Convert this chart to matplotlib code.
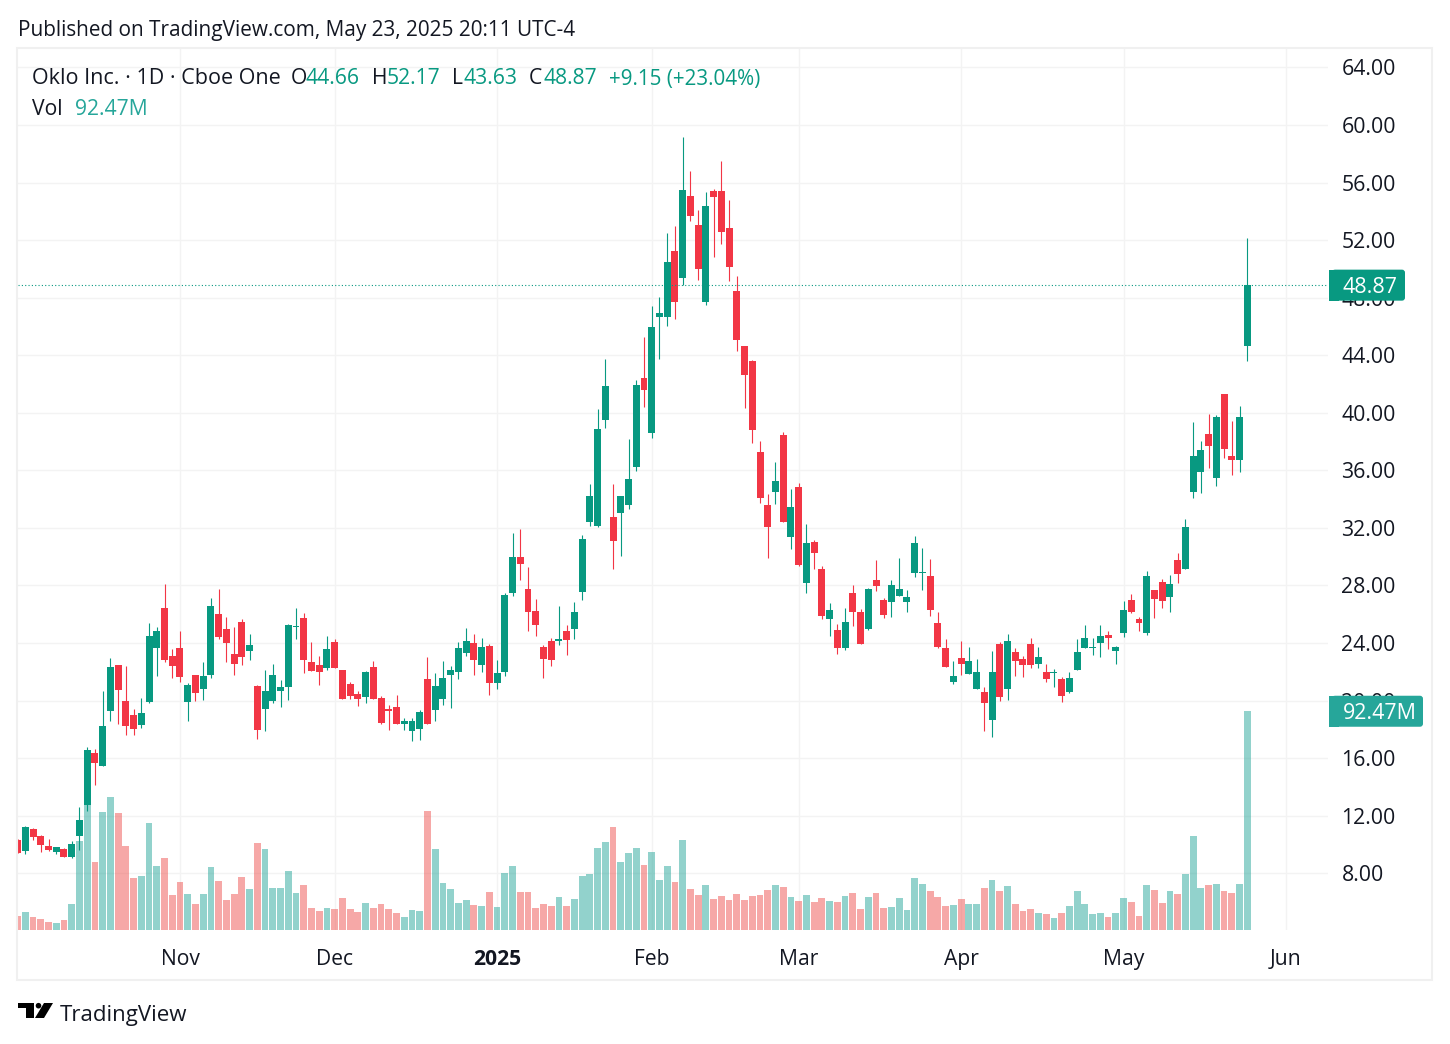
import matplotlib
matplotlib.use('Agg')
import matplotlib.pyplot as plt
from matplotlib.patches import Circle, FancyBboxPatch, Polygon, Rectangle
import numpy as np

W, H = 1450, 1044
FONT = 'Open Sans'

opens = [
    10.29, 9.52, 11.11, 10.56, 9.93, 9.45, 9.66, 9.10, 10.56, 12.77,
    16.38, 15.48, 19.29, 22.48, 19.98, 19.01, 18.32, 19.91, 23.65, 26.43,
    23.10, 23.65, 19.91, 21.78, 20.81, 21.78, 26.01, 24.97, 23.24, 25.46,
    23.45, 21.02, 19.43, 19.98, 20.67, 20.95, 25.11, 25.73, 22.66, 22.46,
    22.25, 24.05, 22.11, 21.14, 20.45, 20.24, 22.32, 20.17, 19.41, 19.55,
    18.37, 17.88, 18.02, 21.49, 19.34, 20.10, 21.76, 21.97, 23.29, 23.98,
    22.46, 23.77, 21.21, 21.97, 27.45, 30.01, 27.79, 26.20, 23.70, 24.12,
    24.12, 24.81, 24.95, 27.58, 32.40, 32.12, 39.53, 32.74, 33.02, 33.57,
    36.21, 42.44, 38.63, 46.67, 46.67, 51.24, 49.37, 55.06, 53.05, 47.71,
    55.40, 55.40, 52.84, 48.47, 44.66, 43.62, 37.25, 33.57, 34.47, 38.49,
    31.36, 34.82, 28.19, 31.04, 29.16, 25.70, 24.94, 23.69, 27.50, 26.18,
    25.01, 28.40, 27.02, 26.88, 27.29, 26.88, 28.89, 28.89, 28.68, 25.42,
    23.69, 21.26, 22.93, 21.82, 20.78, 20.57, 18.63, 23.90, 20.78, 23.41,
    22.86, 23.91, 22.51, 21.96, 21.89, 21.47, 20.63, 22.10, 23.63, 23.63,
    23.98, 24.53, 23.42, 24.67, 26.97, 25.65, 24.67, 27.66, 28.22, 27.18,
    29.75, 29.13, 34.48, 35.88, 38.52, 35.46, 41.31, 36.99, 36.71, 44.66,
]
highs = [
    10.35, 11.32, 11.18, 10.63, 10.35, 9.86, 9.73, 10.21, 12.64, 16.79,
    16.66, 20.67, 22.96, 22.48, 22.41, 19.43, 20.19, 25.39, 25.11, 28.09,
    23.59, 24.83, 21.23, 21.78, 22.68, 27.12, 27.74, 25.80, 25.11, 25.66,
    24.62, 21.09, 22.13, 22.55, 21.44, 25.32, 26.43, 26.08, 24.10, 23.08,
    24.47, 24.26, 22.11, 21.28, 20.65, 22.04, 22.73, 20.31, 19.68, 20.38,
    18.78, 18.78, 19.34, 23.01, 21.90, 22.73, 22.39, 24.05, 25.02, 24.60,
    24.33, 23.91, 22.80, 27.51, 31.67, 31.95, 29.25, 27.03, 23.84, 24.33,
    26.54, 25.23, 26.82, 31.53, 35.03, 40.23, 43.76, 35.03, 34.20, 38.15,
    42.30, 45.28, 47.43, 48.06, 52.49, 52.98, 59.14, 56.79, 54.09, 55.33,
    55.54, 57.48, 54.78, 49.51, 44.66, 43.69, 38.01, 34.34, 36.55, 38.70,
    34.68, 35.10, 32.28, 31.17, 29.37, 26.81, 25.35, 26.46, 28.06, 26.39,
    27.85, 29.79, 27.15, 28.40, 29.93, 27.71, 31.45, 30.62, 29.86, 26.18,
    24.31, 22.72, 24.11, 23.76, 22.86, 20.92, 23.48, 24.04, 24.66, 23.69,
    23.07, 24.32, 23.70, 22.51, 22.17, 21.61, 21.96, 24.25, 25.23, 24.32,
    25.23, 24.81, 23.77, 26.90, 27.39, 25.78, 28.99, 27.66, 28.43, 28.71,
    30.24, 32.61, 39.36, 38.03, 39.91, 39.84, 41.31, 39.43, 40.47, 52.17,
]
lows = [
    9.39, 9.31, 10.28, 9.45, 9.52, 9.31, 9.10, 9.03, 9.59, 12.36,
    14.16, 15.48, 18.60, 18.39, 17.63, 17.63, 18.11, 19.84, 21.71, 22.68,
    21.58, 21.30, 18.60, 19.98, 20.05, 21.58, 24.28, 22.68, 21.78, 22.48,
    22.82, 17.35, 17.90, 19.84, 19.57, 20.05, 24.28, 21.92, 22.04, 21.07,
    22.11, 22.25, 20.10, 20.10, 19.61, 19.82, 20.10, 18.37, 17.95, 18.37,
    17.95, 17.19, 17.26, 18.37, 18.58, 19.68, 19.48, 21.49, 23.08, 21.76,
    21.97, 20.38, 20.79, 21.69, 27.24, 28.35, 24.81, 24.47, 21.55, 22.39,
    23.84, 23.15, 24.26, 26.96, 32.12, 32.05, 38.91, 29.14, 30.04, 33.30,
    35.93, 40.43, 38.22, 43.76, 46.05, 46.53, 48.89, 53.32, 49.24, 47.50,
    50.83, 51.73, 49.17, 44.31, 40.36, 37.87, 33.71, 29.90, 33.64, 32.40,
    30.52, 29.35, 27.50, 29.16, 25.70, 24.52, 23.27, 23.55, 25.21, 23.90,
    24.94, 27.64, 25.77, 25.84, 27.29, 26.18, 28.61, 27.71, 25.91, 23.69,
    22.37, 21.13, 21.75, 21.82, 20.78, 17.87, 17.45, 19.95, 20.02, 21.68,
    21.61, 22.30, 22.30, 21.26, 20.98, 19.87, 20.56, 22.10, 23.63, 23.14,
    23.00, 23.56, 22.51, 24.39, 26.06, 24.81, 24.53, 25.72, 26.41, 26.13,
    28.15, 29.13, 34.07, 34.42, 36.16, 34.90, 36.85, 35.67, 35.88, 43.63,
]
closes = [
    9.39, 11.25, 10.49, 10.00, 9.59, 9.86, 9.10, 10.07, 11.67, 16.59,
    15.69, 18.25, 22.34, 20.74, 18.25, 18.04, 19.15, 24.49, 24.83, 22.82,
    22.41, 21.65, 21.09, 20.54, 21.71, 26.57, 24.42, 24.00, 22.55, 23.03,
    23.86, 17.97, 20.67, 21.78, 20.95, 25.25, 25.18, 22.82, 22.04, 21.97,
    23.56, 22.25, 20.10, 20.31, 20.10, 21.97, 20.10, 18.44, 19.27, 18.37,
    18.58, 18.58, 19.20, 18.37, 21.00, 21.55, 22.11, 23.63, 24.12, 22.80,
    23.70, 21.21, 21.90, 27.31, 30.01, 29.46, 26.13, 25.23, 22.87, 22.80,
    24.26, 24.19, 26.13, 31.26, 34.20, 38.84, 41.89, 31.08, 34.20, 35.37,
    41.96, 41.61, 45.98, 46.95, 50.48, 47.71, 55.47, 53.67, 50.00, 54.36,
    54.99, 52.56, 50.14, 45.08, 42.65, 38.77, 34.06, 32.05, 35.24, 32.40,
    33.43, 29.42, 30.97, 30.27, 25.91, 26.32, 23.69, 25.49, 26.18, 23.90,
    27.78, 27.99, 25.98, 28.06, 27.78, 27.22, 30.97, 28.96, 26.32, 23.76,
    22.37, 21.68, 22.51, 22.72, 21.96, 19.81, 21.96, 20.22, 24.11, 22.72,
    22.44, 22.44, 23.00, 21.47, 21.96, 20.29, 21.54, 23.35, 24.32, 23.70,
    24.46, 24.32, 23.70, 26.27, 26.13, 25.37, 28.64, 27.04, 26.90, 28.08,
    28.78, 32.05, 36.99, 37.41, 37.69, 39.70, 37.48, 36.71, 39.70, 48.87,
]
# volume in millions of shares
volumes = [
    5.9, 7.6, 5.5, 4.6, 3.4, 3.0, 4.2, 11.0, 37.6, 52.8,
    28.7, 49.8, 56.1, 49.4, 35.5, 21.9, 22.8, 45.2, 27.0, 30.4,
    14.8, 20.3, 15.2, 11.0, 15.2, 26.6, 20.7, 12.7, 15.2, 22.4,
    17.3, 36.7, 34.2, 17.7, 17.7, 24.9, 15.6, 19.0, 9.3, 8.0,
    9.3, 8.9, 13.5, 8.9, 7.6, 11.4, 9.3, 11.0, 8.9, 7.2,
    5.5, 8.4, 8.0, 50.2, 34.2, 19.8, 17.3, 11.4, 12.7, 10.6,
    10.1, 16.0, 9.7, 24.1, 27.0, 16.0, 16.0, 9.3, 11.0, 10.1,
    13.9, 10.1, 13.1, 22.8, 23.6, 34.6, 37.1, 43.5, 28.7, 32.5,
    34.6, 27.4, 32.9, 21.1, 27.0, 20.3, 38.0, 17.3, 14.8, 19.0,
    13.1, 14.4, 12.7, 15.2, 12.7, 14.4, 14.8, 16.9, 19.0, 18.2,
    13.9, 12.2, 14.8, 11.8, 13.5, 12.2, 11.8, 14.4, 15.6, 8.9,
    13.9, 15.6, 9.3, 9.7, 13.5, 8.4, 21.9, 19.4, 16.5, 13.9,
    10.1, 10.6, 13.1, 11.0, 11.0, 17.7, 21.1, 16.5, 18.6, 11.0,
    8.0, 8.9, 7.2, 6.8, 5.1, 7.2, 10.1, 16.5, 11.0, 6.8,
    7.2, 5.5, 7.2, 13.5, 11.8, 5.9, 19.0, 16.9, 11.4, 16.5,
    15.2, 23.6, 39.7, 17.7, 19.0, 19.4, 16.5, 15.6, 19.4, 92.47,
]
price_ticks = [8, 12, 16, 20, 24, 28, 32, 36, 40, 44, 48, 52, 56, 60, 64]
date_ticks = [21, 41, 62, 82, 101, 122, 143, 164]
date_labels = ['Nov', 'Dec', '2025', 'Feb', 'Mar', 'Apr', 'May', 'Jun']

UP = '#089981'
DOWN = '#F23645'
VOL_UP = '#26A69A'
VOL_DOWN = '#EF5350'
TEXT = '#131722'
GRID = '#f3f3f3'
FRAME = '#f0f0f0'

plt.rcParams['font.family'] = FONT

fig = plt.figure(figsize=(W / 100, H / 100), dpi=100, facecolor='white')
pos = [18 / W, 1 - 930 / H, (1328 - 18) / W, (930 - 49) / H]

x = np.arange(len(closes))
o = np.array(opens)
h = np.array(highs)
l = np.array(lows)
c = np.array(closes)
up = c >= o

# three layers: grid and ticks at the bottom, then volume, then candles
ax = fig.add_axes(pos)
ax.set_xlim(0.056, 169.44)
ax.set_ylim(4.06, 65.28)
ax.set_yticks(price_ticks)
ax.set_yticklabels(['%.2f' % t for t in price_ticks])
ax.set_xticks(date_ticks)
ax.set_xticklabels(date_labels)
ax.grid(True, color=GRID, lw=1.0)
ax.set_axisbelow(True)
ax.tick_params(length=0)
ax.tick_params(axis='y', labelright=True, labelleft=False, pad=9.7, labelsize=15.3, labelcolor=TEXT)
ax.tick_params(axis='x', pad=13.4, labelsize=15.2, labelcolor=TEXT)
for lab in ax.get_yticklabels():
    lab.set_ha('left')
for lab, name in zip(ax.get_xticklabels(), date_labels):
    if name == '2025':
        lab.set_fontweight('bold')
for s in ax.spines.values():
    s.set_visible(False)

vol_ax = fig.add_axes(pos, sharex=ax)
vol_ax.patch.set_visible(False)
vol_ax.axis('off')
vol_ax.set_ylim(0, 372.4)
vol_ax.bar(x, volumes, width=0.88, color=[VOL_UP if u else VOL_DOWN for u in up], alpha=0.5, lw=0)

top = fig.add_axes(pos, sharex=ax, sharey=ax)
top.patch.set_visible(False)
top.axis('off')
colors = [UP if u else DOWN for u in up]
top.vlines(x, l, h, colors=colors, lw=0.8)
top.bar(x, np.maximum(np.abs(c - o), 0.07), bottom=np.minimum(o, c), width=0.9, color=colors, lw=0)
top.axhline(c[-1], color=UP, lw=0.8, ls=(0, (1, 2)))

# outer frame
fig.add_artist(Rectangle((17, H - 980), 1415, 932, transform=None, fill=False, ec=FRAME, lw=1.5))


def right_label(value, text, color, x1):
    # price scale tag with rounded right corners
    yc = ax.transData.transform((0, value))[1]
    fig.add_artist(FancyBboxPatch((1332, yc - 15.5), x1 - 1332, 31, boxstyle='round,pad=0,rounding_size=3',
                                  transform=None, fc=color, ec='none', zorder=5))
    fig.add_artist(Rectangle((1329, yc - 15.5), 10, 31, transform=None, fc=color, ec='none', zorder=5))
    fig.text(1342.5 / W, yc / H, text, color='white', fontsize=15.4, va='center_baseline', ha='left', zorder=6)


right_label(c[-1], '48.87', UP, 1405)
vol_y = vol_ax.transData.transform((0, volumes[-1]))[1]
right_label(ax.transData.inverted().transform((0, vol_y))[1], '92.47M', VOL_UP, 1423)


def label(px, py, s, color=TEXT, size=15.2, **kw):
    fig.text(px / W, 1 - py / H, s, color=color, fontsize=size, va='center', ha='left', **kw)


label(18, 30.5, 'Published on TradingView.com, May 23, 2025 20:11 UTC-4', size=14.96)
label(32, 79, 'Oklo Inc. · 1D · Cboe One', size=15.45)
label(291, 79, 'O')
label(306, 79, '44.66', UP)
label(372, 79, 'H')
label(387, 79, '52.17', UP)
label(452, 79, 'L')
label(463, 79, '43.63', UP)
label(529, 79, 'C')
label(543, 79, '48.87', UP)
label(609, 79, '+9.15 (+23.04%)', UP, size=14.9)
label(32, 109.5, 'Vol')
label(75, 109.5, '92.47M', VOL_UP)

# TradingView mark
for pts in ([(18, 1003), (34, 1003), (34, 1018), (26, 1018), (26, 1008), (18, 1008)],
            [(44, 1003), (53, 1003), (44, 1018), (35, 1018)]):
    fig.add_artist(Polygon([(a, H - b) for a, b in pts], transform=None, fc='black', ec='none'))
fig.add_artist(Circle((38.5, H - 1005.7), 2.8, transform=None, fc='black', ec='none'))
label(60, 1015, 'TradingView', size=16)

fig.savefig('out.png', dpi=100, facecolor='white')
